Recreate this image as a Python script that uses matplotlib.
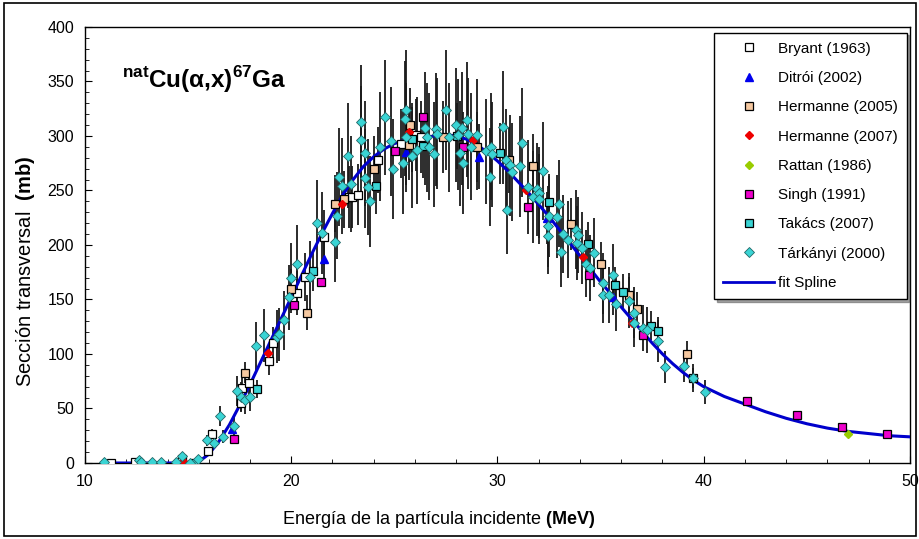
import numpy as np
import matplotlib
matplotlib.use('Agg')
import matplotlib.pyplot as plt
from matplotlib.patches import Rectangle
from matplotlib.ticker import MultipleLocator

plt.rcParams['font.family'] = ['Liberation Sans', 'DejaVu Sans']
plt.rcParams['mathtext.fontset'] = 'custom'
plt.rcParams['mathtext.rm'] = 'Liberation Sans'
plt.rcParams['mathtext.bf'] = 'Liberation Sans:bold'

# spline fit
fit_E = [11, 12, 13, 14, 15, 15.5, 16, 16.5, 17, 17.5, 18, 18.5, 19, 19.5, 20, 20.5, 21, 21.5,
         22, 22.5, 23, 23.5, 24, 24.5, 25, 25.5, 26, 26.5, 27, 27.5, 28, 28.5, 29, 29.5, 30,
         30.5, 31, 31.5, 32, 32.5, 33, 33.5, 34, 34.5, 35, 35.5, 36, 36.5, 37, 37.5, 38, 38.5,
         39, 39.5, 40, 41, 42, 43, 44, 45, 46, 47, 48, 49, 50]
fit_s = [0, 0, 0, 0, 0, 1, 8, 20, 35, 53, 72, 92, 112, 132, 152, 172, 192, 211,
         229, 246, 260, 272, 281, 288, 293, 296, 298, 299, 300, 301, 300, 297, 292, 285, 277,
         268, 258, 248, 237, 226, 214, 202, 190, 178, 166, 155, 143, 132, 121, 110, 100, 91,
         83, 76, 70, 61, 54, 47, 41, 36, 32, 29, 27, 25, 24]

# Bryant (1963)
bry_E = [11.25, 12.4, 14.7, 15.95, 16.15, 17.55, 17.6, 17.95, 18.9, 19.1, 20.3, 20.65, 21.6,
         22.8, 22.95, 23.25, 24.2, 25.3, 26.05, 26.3]
bry_s = [0, 1, 4, 11, 27, 55, 69, 73, 94, 110, 156, 171, 207, 244, 244, 246, 278, 293, 301, 299]
bry_e = [0, 0, 1, 2, 4, 8, 9, 10, 13, 15, 20, 22, 25, 28, 28, 28, 30, 32, 33, 33]

# Ditrói (2002)
dit_E = [17.15, 21.6, 25.55, 29.1, 32.4, 35.6]
dit_s = [31, 187, 285, 281, 225, 152]
dit_e = [4, 20, 30, 30, 24, 16]

# Hermanne (2005)
h05_E = [17.75, 20.0, 20.75, 22.1, 22.55, 24.0, 25.7, 25.75, 27.35, 29.0, 30.55, 31.7,
         33.55, 35.0, 36.4, 36.75, 39.2]
h05_s = [83, 160, 138, 238, 242, 270, 292, 310, 299, 290, 278, 272, 219, 183, 154, 141, 100]
h05_e = [10, 18, 16, 26, 26, 30, 32, 34, 33, 32, 30, 30, 24, 20, 17, 16, 12]

# Hermanne (2007)
h07_E = [14.75, 18.85, 22.45, 25.7, 28.8, 31.4, 34.15, 36.5]
h07_s = [2, 101, 238, 304, 296, 250, 189, 128]

# Rattan (1986)
rat_E = [47.0]
rat_s = [27]

# Singh (1991)
sin_E = [17.2, 20.15, 21.45, 25.05, 26.4, 28.35, 31.5, 34.45, 37.05, 42.1, 44.5, 46.7, 48.9]
sin_s = [22, 145, 166, 286, 317, 290, 235, 172, 117, 57, 44, 33, 27]

# Takács (2007)
tak_E = [15.3, 18.35, 21.05, 24.1, 25.85, 26.4, 28.05, 30.1, 32.5, 34.4, 35.7, 36.1, 37.45,
         37.8, 39.5]
tak_s = [0, 68, 176, 254, 297, 291, 300, 284, 239, 201, 163, 157, 126, 121, 78]
tak_e = [1, 8, 18, 26, 30, 30, 30, 28, 24, 20, 17, 16, 13, 13, 9]

# Tárkányi (2000)
tar_E = [10.9, 12.6, 12.7, 13.25, 13.7, 14.4, 14.7, 15.1, 15.5, 15.9, 16.25, 16.55, 16.7,
         17.2, 17.35, 17.55, 17.75, 18.0, 18.3, 18.7, 19.3, 19.4, 19.65, 19.9, 20.0, 20.3,
         20.9, 21.25, 21.5, 22.1, 22.2, 22.3, 22.45, 22.75, 22.9, 23.4, 23.4, 23.6, 23.6,
         23.7, 23.8, 24.3, 24.55, 24.85, 24.95, 25.4, 25.5, 25.55, 25.55, 25.85, 26.1, 26.5,
         26.6, 26.7, 26.9, 27.0, 27.05, 27.5, 27.65, 28.0, 28.1, 28.2, 28.3, 28.35, 28.5,
         28.55, 28.7, 29.0, 29.45, 29.65, 29.7, 29.75, 30.25, 30.4, 30.45, 30.6, 30.7, 31.1,
         31.2, 31.5, 31.7, 31.9, 32.0, 32.0, 32.2, 32.45, 32.45, 32.5, 32.9, 33.0, 33.1, 33.2,
         33.4, 33.8, 33.85, 33.9, 34.1, 34.3, 34.5, 34.7, 35.1, 35.1, 35.4, 35.6, 35.75,
         36.4, 36.6, 36.6, 37.05, 37.25, 37.8, 38.1, 39.05, 39.5, 40.05]
tar_s = [1, 3, 1, 1, 1, 1, 6, 0, 4, 21, 18, 43, 24,
         34, 66, 61, 58, 61, 107, 117, 116, 118, 131, 152, 170, 183,
         171, 220, 211, 203, 227, 262, 254, 282, 256, 313, 296, 284, 261,
         253, 240, 290, 317, 295, 270, 275, 316, 324, 299, 282, 287, 307,
         299, 290, 283, 306, 302, 324, 299, 310, 301, 284, 307, 275, 315,
         302, 290, 301, 286, 262, 290, 283, 308, 278, 232, 273, 267, 272,
         294, 253, 244, 251, 248, 242, 268, 217, 208, 227, 226, 238, 194, 210,
         205, 214, 202, 209, 197, 183, 179, 193, 165, 154, 154, 172, 146,
         149, 138, 128, 124, 122, 112, 88, 89, 78, 65]
tar_e = [0, 1, 0, 0, 0, 0, 2, 0, 1, 5, 5, 9, 6,
         8, 14, 13, 13, 13, 22, 24, 24, 24, 27, 30, 32, 35,
         33, 40, 38, 37, 40, 45, 44, 48, 44, 52, 50, 48, 45,
         44, 42, 50, 53, 50, 46, 47, 53, 55, 50, 48, 49, 52,
         50, 49, 48, 52, 51, 55, 50, 52, 51, 48, 52, 47, 53,
         51, 49, 51, 48, 45, 49, 48, 52, 47, 40, 46, 45, 46,
         50, 43, 42, 43, 42, 41, 45, 37, 35, 38, 38, 40, 33, 36,
         35, 36, 34, 35, 33, 31, 30, 32, 28, 26, 26, 29, 25,
         25, 23, 22, 21, 21, 19, 15, 15, 13, 11]

cyan = '#3AD4D4'
fig = plt.figure(figsize=(9.2, 5.39), dpi=100)
ax = fig.add_axes([0.0924, 0.141, 0.8967, 0.809])

# error bars
for E, s, e in [(tar_E, tar_s, tar_e), (tak_E, tak_s, tak_e), (h05_E, h05_s, h05_e),
                (bry_E, bry_s, bry_e), (dit_E, dit_s, dit_e)]:
    ax.errorbar(E, s, yerr=e, fmt='none', ecolor='#1a1a1a', elinewidth=1.3, capsize=0, zorder=2)

ax.plot(fit_E, fit_s, color='#0000CC', lw=2.2, zorder=3)

ms = 5.5
l1, = ax.plot(bry_E, bry_s, 's', mfc='white', mec='black', mew=0.9, ms=ms, zorder=4)
l2, = ax.plot(dit_E, dit_s, '^', mfc='#0000EE', mec='#0000EE', ms=ms, zorder=4)
l3, = ax.plot(h05_E, h05_s, 's', mfc='#F5C8A0', mec='black', mew=0.9, ms=ms, zorder=4)
l4, = ax.plot(h07_E, h07_s, 'D', mfc='#EE0000', mec='#EE0000', ms=4.5, zorder=4)
l5, = ax.plot(rat_E, rat_s, 'D', mfc='#99CC00', mec='#99CC00', ms=4.5, zorder=4)
l6, = ax.plot(sin_E, sin_s, 's', mfc='#EE00CC', mec='black', mew=0.9, ms=ms, zorder=4)
l7, = ax.plot(tak_E, tak_s, 's', mfc=cyan, mec='black', mew=0.9, ms=ms, zorder=4)
l8, = ax.plot(tar_E, tar_s, 'D', mfc=cyan, mec='#226666', mew=0.6, ms=5, zorder=5)
l9, = ax.plot([], [], color='#0000CC', lw=2)

leg = ax.legend([l1, l2, l3, l4, l5, l6, l7, l8, l9],
                ['Bryant (1963)', 'Ditrói (2002)', 'Hermanne (2005)', 'Hermanne (2007)',
                 'Rattan (1986)', 'Singh (1991)', 'Takács (2007)', 'Tárkányi (2000)', 'fit Spline'],
                loc='upper right', bbox_to_anchor=(0.996, 0.987), borderaxespad=0,
                fontsize=11, numpoints=1, handlelength=3.3, handletextpad=0.25,
                labelspacing=1.0, borderpad=0.6, fancybox=False, shadow=True,
                edgecolor='black', framealpha=1)
leg.get_frame().set_linewidth(1.0)
leg.set_zorder(10)

ax.set_xlim(10, 50)
ax.set_ylim(0, 400)
ax.xaxis.set_major_locator(MultipleLocator(10))
ax.xaxis.set_minor_locator(MultipleLocator(2))
ax.yaxis.set_major_locator(MultipleLocator(50))
ax.yaxis.set_minor_locator(MultipleLocator(10))
ax.tick_params(which='both', direction='in', labelsize=11.5, colors='black')
ax.tick_params(which='major', length=5, pad=8)
ax.tick_params(which='minor', length=3)
for sp in ax.spines.values():
    sp.set_linewidth(1.0)

ax.set_xlabel(r'Energía de la partícula incidente $\mathbf{(MeV)}$', fontsize=13)
ax.xaxis.set_label_coords(0.429, -0.105)
ax.set_ylabel(r'Sección transversal  $\mathbf{(mb)}$', fontsize=14.5)
ax.yaxis.set_label_coords(-0.058, 0.44)

ax.text(0.045, 0.915, r'$^{\mathbf{nat}}$Cu(α,x)$^{\mathbf{67}}$Ga', transform=ax.transAxes,
        fontsize=17.5, fontweight='bold', va='top', ha='left')

fig.add_artist(Rectangle((0.004, 0.006), 0.992, 0.988, transform=fig.transFigure,
                         fill=False, edgecolor='black', lw=1.2))

fig.savefig('out.png', dpi=100)
